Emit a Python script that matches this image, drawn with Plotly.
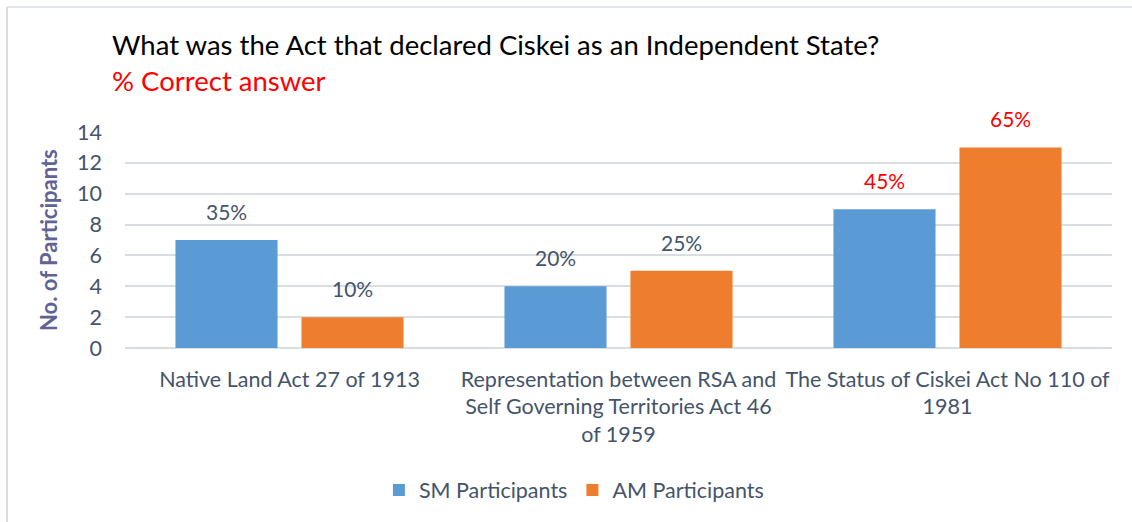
import plotly.graph_objects as go

categories = [
    "Native Land Act 27 of 1913",
    "Representation between RSA and<br>Self Governing Territories Act 46<br>of 1959",
    "The Status of Ciskei Act No 110 of<br>1981",
]
sm_values = [7, 4, 9]
am_values = [2, 5, 13]
sm_labels = ["35%", "20%", "45%"]
am_labels = ["10%", "25%", "65%"]
label_colors = ["#44546A", "#44546A", "#FF0000"]

FONT = "Lato, 'Open Sans', sans-serif"
TICK = "#44546A"

fig = go.Figure()
fig.add_trace(go.Bar(name="SM Participants", x=categories, y=sm_values,
                     marker=dict(color="#5B9BD5", line=dict(width=0))))
fig.add_trace(go.Bar(name="AM Participants", x=categories, y=am_values,
                     marker=dict(color="#EF7D2E", line=dict(width=0))))

# data labels
for i, c in enumerate(categories):
    for vals, labs, shift in ((sm_values, sm_labels, -63), (am_values, am_labels, 63)):
        fig.add_annotation(x=c, y=vals[i], text=labs[i], xref="x", yref="y",
                           xshift=shift, yshift=14, yanchor="bottom", showarrow=False,
                           font=dict(family=FONT, size=21, color=label_colors[i]))

# outer chart border (top and left edges visible)
W, H = 1132, 522
L, R, T, B = 125, 20, 132, 174
pw, ph = W - L - R, H - T - B
def px(x): return (x - L) / pw
def py(y): return 1 - (y - T) / ph
fig.add_shape(type="line", xref="paper", yref="paper", x0=px(7), x1=px(1132), y0=py(7), y1=py(7),
              line=dict(color="#D9DEE3", width=1.5))
fig.add_shape(type="line", xref="paper", yref="paper", x0=px(7), x1=px(7), y0=py(7), y1=py(522),
              line=dict(color="#D9DEE3", width=2))

# y-axis title
fig.add_annotation(text="<b>No. of Participants</b>", xref="paper", yref="paper",
                   x=px(48), y=0.5, xanchor="center", yanchor="middle", textangle=-90,
                   showarrow=False, font=dict(family=FONT, size=22, color="#5F6396"))

fig.update_layout(
    width=W, height=H,
    margin=dict(l=L, r=R, t=T, b=B),
    paper_bgcolor="white", plot_bgcolor="white",
    barmode="group", bargap=0.234, bargroupgap=0.19,
    font=dict(family=FONT, color=TICK, size=21),
    title=dict(
        text="What was the Act that declared Ciskei as an Independent State?<br>"
             "<span style='color:#FF0000'>% Correct answer</span>",
        x=112 / W, xanchor="left", xref="container",
        y=1 - 55 / H, yanchor="top", yref="container",
        font=dict(family=FONT, size=27.5, color="#000000"),
    ),
    showlegend=True,
    legend=dict(orientation="h", xref="container", yref="container",
                x=0.507, xanchor="center", y=1 - 490 / H, yanchor="middle",
                font=dict(family=FONT, size=21.5, color=TICK), itemwidth=30),
    xaxis=dict(showgrid=False, showline=False, ticks="", tickangle=0,
               ticklabelstandoff=16,
               tickfont=dict(family=FONT, size=21.5, color=TICK)),
    yaxis=dict(range=[0, 14], dtick=2, showgrid=True, gridcolor="#D9DEE3", gridwidth=1.5,
               zeroline=True, zerolinecolor="#D9DEE3", zerolinewidth=1.5,
               ticks="", ticklabelstandoff=22,
               tickfont=dict(family=FONT, size=21.5, color=TICK)),
)

fig.write_html("out.html", config={"displayModeBar": False},
               post_script="document.body.style.margin='0';document.body.style.overflow='hidden';")
